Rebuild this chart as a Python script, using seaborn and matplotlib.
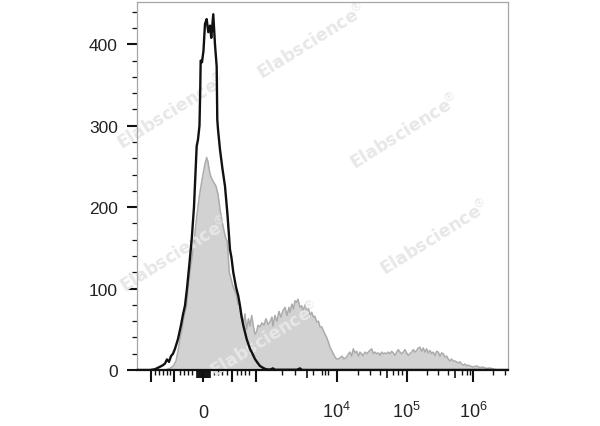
import numpy as np
import matplotlib
matplotlib.use("Agg")
from matplotlib import pyplot as plt
import seaborn as sns

# display channel (logicle-like axis, 0..371) and event counts
black_ch = [0, 13, 18, 23, 26, 28, 30, 32, 34, 36, 38, 41, 44, 46, 48, 50, 52, 54.7, 57,
            59.7, 61, 62.5, 63.2, 63.7, 65, 66.5, 68, 69.7, 71.3, 73, 74.3, 76.3, 78, 79.7,
            80.3, 81, 83, 85.5, 88, 90.5, 93, 94.5, 96.3, 99, 101.3, 103, 104.5, 106.3,
            109.7, 113, 115.5, 118, 120.5, 123, 126.3, 129, 133, 136, 138, 160, 163, 165, 371]
black_count = [0, 0, 1, 4, 6, 8, 13, 10, 17, 20, 26, 38, 55, 68, 79, 100, 125, 160, 200,
               275, 283, 300, 340, 380, 378, 392, 425, 431, 415, 423, 408, 437, 400, 373,
               308, 296, 271, 247, 226, 191, 148, 138, 120, 102, 91, 79, 66, 55,
               38, 26, 20, 13.5, 9, 5, 2.5, 1, 0.5, 2, 0.3, 0.3, 2, 0, 0]

gray_ch = [0, 28, 33, 36.3, 39, 41, 43, 45, 47, 49.7, 51, 53, 55, 57, 60, 62, 64, 66, 68,
           69.7, 71, 72.5, 74, 76, 78, 79, 81, 83, 84.7, 87, 88.5, 90.3, 92.3, 94, 96, 98,
           99.7, 101, 103, 105, 106.3, 108, 109.7, 111.5, 113, 114.7, 116.5, 118, 119.7,
           121, 123, 125, 127, 129, 131, 133, 135, 136, 138, 140, 142, 144, 146, 148, 150,
           152, 153, 155, 156.5, 158, 159.5, 161, 163, 164.7, 166, 168, 169.7, 171.5, 173,
           174.7, 176.5, 178, 179.7, 181.5, 183, 184.7, 186.5, 188, 189.7, 191.5, 193,
           194.7, 196.5, 198, 199.7, 201.5, 203, 205, 207, 209.7, 211.5, 213, 214.7, 216.3,
           218, 219.7, 221.5, 223, 224.5, 226, 228, 230, 232, 234.7, 236.5, 238, 239.7,
           241.5, 243, 244.7, 246.3, 248, 249.7, 251.3, 253, 254.7, 256.3, 258, 259.7,
           261.3, 263, 264.7, 266.3, 268, 269.7, 271.3, 273, 274.7, 276.3, 278, 279.7,
           281.3, 283, 284.7, 286.3, 288, 289.7, 291.3, 293, 294.7, 296.3, 298, 299.7,
           301.3, 303, 304.7, 306.3, 308, 309.7, 311.3, 313, 314.7, 316.3, 318, 319.7,
           321.3, 323, 324.7, 326.3, 328, 329.7, 331.3, 333, 336, 339.7, 343, 346, 349,
           353, 358, 363, 371]
gray_count = [0, 0, 2, 5, 11, 23, 38, 50, 65, 79, 99, 120, 139, 157, 191, 210, 226, 240, 253,
              261, 256, 244, 237, 232, 228, 226, 216, 198, 185, 171, 163, 158, 120, 112, 103, 97,
              91, 81, 80, 65, 56, 69, 50, 63, 54, 67, 53, 44, 47,
              55, 53, 58, 55, 63, 56, 59, 65, 54, 67, 60, 72, 65, 73, 77, 67,
              77, 71, 81, 75, 85, 83, 87, 77, 79, 72, 80, 73, 76, 67,
              71, 65, 66, 59, 60, 53, 53, 48, 44, 40, 34, 28,
              24, 20, 16, 13.5, 13.5, 15, 17, 13.5, 16, 20, 22, 17, 26,
              21, 23, 17, 22, 20, 17.6, 22, 20, 23, 26, 20, 22, 20,
              21, 18, 22, 20, 21, 20, 22, 20, 23, 21, 18, 22,
              25, 22, 20, 22, 25, 21, 18, 20, 22, 25, 22, 24,
              27, 28, 23, 27, 22, 26, 21, 24, 20, 22, 17.6, 23,
              22, 17, 21, 20, 16, 17, 13.5, 11, 13.5, 11, 11, 10,
              8.6, 10, 7.4, 6, 7.4, 5, 6, 5, 3.7, 5, 3, 3.7, 2,
              2.5, 0.6, 0, 0]

x_label_pos = [66.3, 199.7, 269.7, 336.3]
x_label_txt = ["0", "$10^4$", "$10^5$", "$10^6$"]
x_long = [14, 37.3, 94.7, 118.7]
x_medium = [60, 61, 62, 63, 64, 65, 66, 67, 68, 69, 70, 71, 72, 73, 169.7, 249.7, 318]
x_short = [18, 22, 26, 29.7, 32.7, 43, 47.3, 51.3, 55.3, 77.3, 81.3, 85.3, 89.7, 99.7, 104,
           108, 112.3, 144.7, 158, 176, 184.7, 188, 191, 221, 233, 243, 256, 261.3, 264.7,
           289.7, 301.3, 311.3, 324.7, 329.7, 333, 356.3, 368]
y_major = [0, 100, 200, 300, 400]
y_minor = [20, 40, 60, 80, 120, 140, 160, 180, 220, 240, 260, 280, 320, 340, 360, 380, 420, 440]

sns.set_style("ticks")
plt.rcParams["font.family"] = ["Liberation Sans", "DejaVu Sans"]
plt.rcParams["mathtext.fontset"] = "custom"
plt.rcParams["mathtext.rm"] = "Liberation Sans"
plt.rcParams["mathtext.it"] = "Liberation Sans"

fig = plt.figure(figsize=(6, 4.27), dpi=100)
ax = fig.add_axes([0.2283, 0.1311, 0.6183, 0.8618])

ax.fill_between(gray_ch, gray_count, 0, color="#d2d2d2", lw=0, zorder=1)
sns.lineplot(x=gray_ch, y=gray_count, ax=ax, color="#ababab", lw=1.1, estimator=None, zorder=1.5)
sns.lineplot(x=black_ch, y=black_count, ax=ax, color="#111111", lw=1.7, estimator=None, zorder=3)

# watermarks
marks = [(0.52, 0.902), (0.287, 0.738), (0.675, 0.691), (0.292, 0.403), (0.725, 0.443), (0.442, 0.204)]
for mx, my in marks:
    ax.text(mx, my, "Elabscience$^{\u00ae}$", transform=fig.transFigure, rotation=32,
            ha="center", va="center", fontsize=12.5, fontweight="bold",
            color="#e7e7e7", zorder=2, clip_on=False, family="DejaVu Sans")

ax.set_xlim(0, 371)
ax.set_ylim(0, 452)

ax.set_xticks(x_long + x_label_pos)
ax.set_xticklabels([""] * len(x_long) + x_label_txt)
ax.set_xticks(x_short, minor=True)
ax.tick_params(axis="x", which="major", length=8.6, width=1.5, color="#111111",
               pad=25.5, labelsize=13, labelcolor="#222222")
ax.tick_params(axis="x", which="minor", length=3.3, width=1.0, color="#111111")
for lab in ax.get_xticklabels():
    lab.set_verticalalignment("baseline")

sec = ax.secondary_xaxis("bottom")
sec.set_xticks(x_medium)
sec.set_xticklabels([""] * len(x_medium))
sec.tick_params(axis="x", direction="out", length=6, width=1.2, color="#111111")
sec.spines["bottom"].set_visible(False)

ax.set_yticks(y_major)
ax.set_yticks(y_minor, minor=True)
ax.tick_params(axis="y", which="major", length=7.2, width=1.5, color="#111111",
               pad=6.5, labelsize=12.5, labelcolor="#222222")
ax.tick_params(axis="y", which="minor", length=3.6, width=0.9, color="#111111")

for side in ["top", "right", "left"]:
    ax.spines[side].set_color("#a6a6a6")
    ax.spines[side].set_linewidth(0.9)
ax.spines["bottom"].set_color("#111111")
ax.spines["bottom"].set_linewidth(1.6)

ax.set_xlabel("")
ax.set_ylabel("")

plt.savefig("out.png", dpi=100)
